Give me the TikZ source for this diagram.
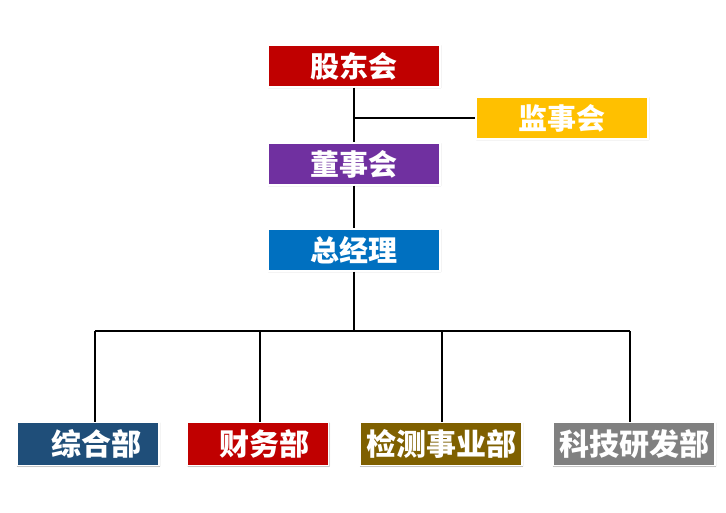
\documentclass[tikz,border=0pt]{standalone}
\usepackage{fontspec}
\newfontfamily\cjk{Noto Sans CJK SC}
\usetikzlibrary{shadows.blur,positioning}
\definecolor{gudong}{HTML}{C00000}
\definecolor{jianshi}{HTML}{FFC000}
\definecolor{dongshi}{HTML}{7030A0}
\definecolor{zongjl}{HTML}{0070C0}
\definecolor{zonghe}{HTML}{1F4E79}
\definecolor{caiwu}{HTML}{C00000}
\definecolor{jiance}{HTML}{7F6000}
\definecolor{keji}{HTML}{808080}

\begin{document}
\begin{tikzpicture}[x=1pt,y=-1pt,unit/.style={rectangle, draw=white, line width=1.2pt, minimum height=42pt, minimum width=172pt, inner sep=0pt, text=white, font=\cjk\bfseries\fontsize{29}{29}\selectfont, blur shadow={shadow xshift=0.6pt, shadow yshift=-0.6pt, shadow blur radius=1.2pt, shadow opacity=35}},dept/.style={unit, minimum height=43pt, font=\cjk\bfseries\fontsize{30}{30}\selectfont},link/.style={line width=1.8pt}]
    \useasboundingbox (0,0) rectangle (726,513);
    \node[unit, fill=gudong] (gdh) at (354,66) {股东会};
    \node[unit, fill=jianshi] (jsh) at (562,118) {监事会};
    \node[unit, fill=dongshi] (dsh) at (354,164) {董事会};
    \node[unit, fill=zongjl] (zjl) at (354,250) {总经理};

    \node[dept, fill=zonghe, minimum width=142pt] (zhb) at (88,444) {\hspace{16pt}综合部};
    \node[dept, fill=caiwu, minimum width=141pt] (cwb) at (258,444) {\hspace{12pt}财务部};
    \node[dept, fill=jiance, minimum width=162pt] (jcb) at (441,444) {检测事业部};
    \node[dept, fill=keji, minimum width=162pt] (kjb) at (634,444) {科技研发部};

    \coordinate (jsj) at (gdh.south |- jsh.west);
    \coordinate (bar) at (354,331);
    \coordinate (c1) at (95,331);
    \coordinate (c2) at (260,331);
    \coordinate (c3) at (442,331);
    \coordinate (c4) at (630,331);

    \draw[link] (gdh.south) -- (dsh.north);
    \draw[link] (jsj) -- (jsh.west);
    \draw[link] (dsh.south) -- (zjl.north);
    \draw[link] (zjl.south) -- (bar);
    \draw[link] (c1) -- (c4);
    \foreach \c/\n in {c1/zhb,c2/cwb,c3/jcb,c4/kjb}
        \draw[link] (\c) -- (\c |- \n.north);

\end{tikzpicture}
\end{document}
